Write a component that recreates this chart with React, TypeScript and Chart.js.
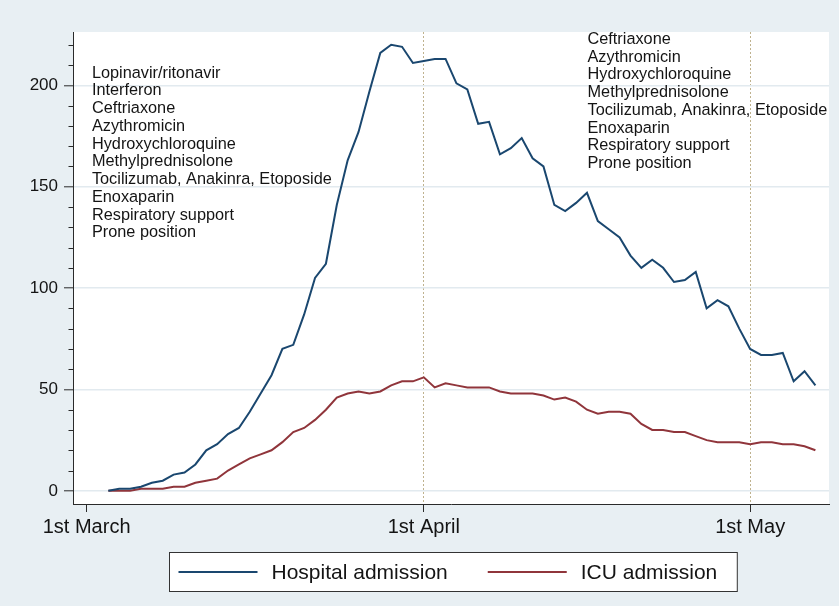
import React, { useEffect, useRef } from "react";
import { Chart, registerables } from "chart.js";

Chart.register(...registerables);

// Day numbers are counted from 1st March (0 = 1st March, 31 = 1st April, 61 = 1st May)
const firstDay = 2; // series start on 3rd March
const hospital = [
  0, 1, 1, 2, 4, 5, 8, 9, 13, 20,
  23, 28, 31, 39, 48, 57, 70, 72, 87, 105,
  112, 141, 163, 177, 197, 216, 220, 219, 211, 212,
  213, 213, 201, 198, 181, 182, 166, 169, 174, 164,
  160, 141, 138, 142, 147, 133, 129, 125, 116, 110,
  114, 110, 103, 104, 108, 90, 94, 91, 80, 70,
  67, 67, 68, 54, 59, 52,
];
const icu = [
  0, 0, 0, 1, 1, 1, 2, 2, 4, 5,
  6, 10, 13, 16, 18, 20, 24, 29, 31, 35,
  40, 46, 48, 49, 48, 49, 52, 54, 54, 56,
  51, 53, 52, 51, 51, 51, 49, 48, 48, 48,
  47, 45, 46, 44, 40, 38, 39, 39, 38, 33,
  30, 30, 29, 29, 27, 25, 24, 24, 24, 23,
  24, 24, 23, 23, 22, 20,
];
const seriesLabels = ["Hospital admission", "ICU admission"];
const xTickDays = [0, 31, 61];
const xTickLabels = ["1st March", "1st April", "1st May"];
const xRefLineDays = [31, 61];
const yTickValues = [0, 50, 100, 150, 200];
const yMinorTicks = [10, 20, 30, 40, 60, 70, 80, 90, 110, 120, 130, 140, 160, 170, 180, 190, 210, 220];

const leftTreatments = [
  "Lopinavir/ritonavir",
  "Interferon",
  "Ceftriaxone",
  "Azythromicin",
  "Hydroxychloroquine",
  "Methylprednisolone",
  "Tocilizumab, Anakinra, Etoposide",
  "Enoxaparin",
  "Respiratory support",
  "Prone position",
];
const rightTreatments = [
  "Ceftriaxone",
  "Azythromicin",
  "Hydroxychloroquine",
  "Methylprednisolone",
  "Tocilizumab, Anakinra, Etoposide",
  "Enoxaparin",
  "Respiratory support",
  "Prone position",
];
// anchors (day, value) of the first line of each text block
const leftAnchor = [0.49, 206];
const rightAnchor = [46.05, 222.7];

const FONT = "'Liberation Sans', Arial, Helvetica, sans-serif";
const BG = "#e8eff3";
const TEXT = "#141414";
const AXIS = "#2a2a2a";
const GRID = "#e2eaef";
const DOT = "#bfb28e";
const NAVY = "#1a476f";
const MAROON = "#90353b";

const decor = {
  id: "decor",
  beforeDraw(chart: any) {
    const { ctx, chartArea: a, width, height } = chart;
    ctx.save();
    ctx.fillStyle = BG;
    ctx.fillRect(0, 0, width, height);
    ctx.fillStyle = "#ffffff";
    ctx.fillRect(a.left, a.top, a.right - a.left, a.bottom - a.top);
    ctx.restore();
  },
  afterDraw(chart: any) {
    const { ctx, chartArea: a } = chart;
    const xs = chart.scales.x;
    const ys = chart.scales.y;
    ctx.save();
    // minor ticks on y axis
    ctx.strokeStyle = AXIS;
    ctx.lineWidth = 1;
    ctx.beginPath();
    for (const v of yMinorTicks) {
      const py = Math.round(ys.getPixelForValue(v)) + 0.5;
      ctx.moveTo(a.left - 4.5, py);
      ctx.lineTo(a.left, py);
    }
    ctx.stroke();

    // treatment text blocks
    ctx.font = `16.3px ${FONT}`;
    ctx.fillStyle = TEXT;
    ctx.textBaseline = "middle";
    ctx.textAlign = "left";
    const LINE = 17.75;
    const block = (lines: string[], anchor: number[]) => {
      const x0 = xs.getPixelForValue(anchor[0]);
      const y0 = ys.getPixelForValue(anchor[1]);
      lines.forEach((t, i) => ctx.fillText(t, x0, y0 + i * LINE));
    };
    block(leftTreatments, leftAnchor);
    block(rightTreatments, rightAnchor);

    // legend box
    const ds = chart.data.datasets;
    ctx.font = `21px ${FONT}`;
    const lineLen = 79;
    const gapText = 14;
    const gapItem = 40;
    const padL = 9;
    const padR = 20;
    let total = 0;
    ds.forEach((d: any, i: number) => {
      total += lineLen + gapText + ctx.measureText(d.label).width;
      if (i < ds.length - 1) total += gapItem;
    });
    const boxW = total + padL + padR;
    const cx = (a.left + a.right) / 2 + 2;
    const boxL = Math.round(cx - boxW / 2) + 0.5;
    const boxT = 552.5;
    const boxH = 39;
    ctx.fillStyle = "#ffffff";
    ctx.fillRect(boxL, boxT, boxW, boxH);
    ctx.strokeStyle = "#333333";
    ctx.lineWidth = 1;
    ctx.strokeRect(boxL, boxT, boxW, boxH);
    let x = boxL + padL;
    const cy = boxT + boxH / 2;
    ds.forEach((d: any) => {
      ctx.strokeStyle = d.borderColor;
      ctx.lineWidth = 2;
      ctx.beginPath();
      ctx.moveTo(x, cy);
      ctx.lineTo(x + lineLen, cy);
      ctx.stroke();
      x += lineLen + gapText;
      ctx.fillStyle = TEXT;
      ctx.fillText(d.label, x, cy + 1);
      x += ctx.measureText(d.label).width + gapItem;
    });
    ctx.restore();
  },
};

export default function App() {
  const ref = useRef<HTMLCanvasElement | null>(null);

  useEffect(() => {
    document.body.style.margin = "0";
    const canvas = ref.current;
    if (!canvas) return;
    const toPoints = (vals: number[]) => vals.map((v, i) => ({ x: firstDay + i, y: v }));
    const chart = new Chart(canvas, {
      type: "line",
      data: {
        datasets: [
          {
            label: seriesLabels[0],
            data: toPoints(hospital),
            borderColor: NAVY,
            backgroundColor: NAVY,
            borderWidth: 2,
            pointRadius: 0,
            tension: 0,
            fill: false,
          },
          {
            label: seriesLabels[1],
            data: toPoints(icu),
            borderColor: MAROON,
            backgroundColor: MAROON,
            borderWidth: 2,
            pointRadius: 0,
            tension: 0,
            fill: false,
          },
        ],
      },
      options: {
        animation: false,
        responsive: false,
        maintainAspectRatio: false,
        devicePixelRatio: 1,
        layout: { padding: { left: 0, right: 10, top: 32, bottom: 62 } },
        plugins: {
          legend: { display: false },
          tooltip: { enabled: false },
          title: { display: false },
        },
        scales: {
          x: {
            type: "linear",
            min: -1.25,
            max: 68.25,
            afterFit: (s: any) => {
              s.height = 40;
            },
            afterBuildTicks: (s: any) => {
              s.ticks = xTickDays.map((v) => ({ value: v }));
            },
            ticks: {
              autoSkip: false,
              maxRotation: 0,
              padding: 3,
              color: TEXT,
              font: { family: FONT, size: 20 },
              callback: (_v: any, i: number) => xTickLabels[i],
            },
            grid: {
              display: true,
              drawOnChartArea: true,
              drawTicks: true,
              tickLength: 8,
              lineWidth: 1,
              color: (c: any) =>
                c.tick && xRefLineDays.includes(c.tick.value) ? DOT : "rgba(0,0,0,0)",
              tickColor: AXIS,
              tickWidth: 1,
            },
            border: { display: true, color: AXIS, width: 1, dash: [2, 2] },
          },
          y: {
            type: "linear",
            min: -6.5,
            max: 226.3,
            afterFit: (s: any) => {
              s.width = 73;
            },
            afterBuildTicks: (s: any) => {
              s.ticks = yTickValues.map((v) => ({ value: v }));
            },
            ticks: {
              padding: 6,
              color: TEXT,
              font: { family: FONT, size: 17 },
            },
            grid: {
              display: true,
              drawTicks: true,
              tickLength: 9,
              lineWidth: 1.6,
              color: GRID,
              tickColor: AXIS,
              tickWidth: 1,
            },
            border: { display: true, color: AXIS, width: 1 },
          },
        },
      },
      plugins: [decor],
    } as any);
    return () => chart.destroy();
  }, []);

  return (
    <div style={{ position: "absolute", left: 0, top: 0, width: 839, height: 606 }}>
      <canvas ref={ref} width={839} height={606} style={{ width: 839, height: 606, display: "block" }} />
    </div>
  );
}
